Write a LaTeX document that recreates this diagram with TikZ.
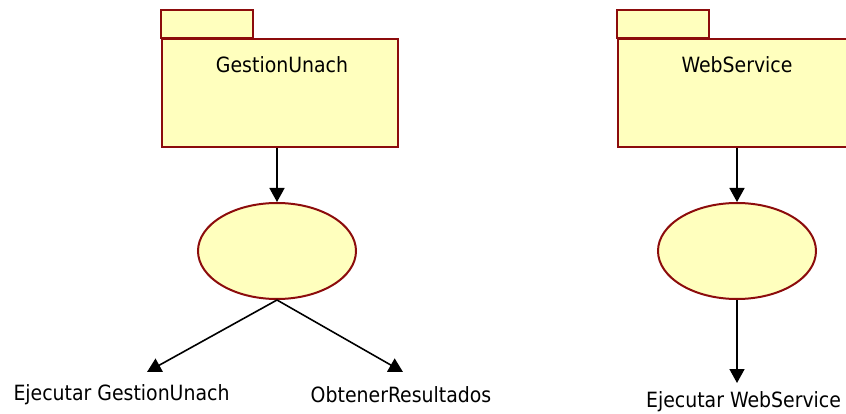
\documentclass[tikz,border=0pt]{standalone}
\usepackage{fontspec}
\setmainfont{DejaVu Sans Condensed}
\usepackage{tikz}
\usetikzlibrary{arrows.meta,shapes.geometric}
\definecolor{pkgfill}{RGB}{255,255,190}
\definecolor{pkgline}{RGB}{140,12,12}
\tikzset{>={Triangle[length=14pt,width=15pt]}}
\tikzset{
  pkg/.style={draw=pkgline,fill=pkgfill,line width=2pt,rectangle,minimum width=236pt,minimum height=108pt,inner sep=0pt},
  usecase/.style={draw=pkgline,fill=pkgfill,line width=2pt,ellipse,minimum width=158pt,minimum height=96pt,inner sep=0pt},
  txt/.style={font=\fontsize{21}{25}\selectfont,inner sep=0pt},
  conn/.style={line width=1.6pt,->}
}

\begin{document}
\begin{tikzpicture}[x=1pt,y=-1pt]
      \path[use as bounding box,clip] (0,0) rectangle (846,414);
      % paquete GestionUnach
      \node[pkg] (gu) at (280,93) {};
      \draw[draw=pkgline,fill=pkgfill,line width=2pt] (gu.north west) rectangle ++(92,-28);
      \node[txt] (guName) at (282,65) {GestionUnach};
      \node[usecase] (ucGu) at (277,251) {};
      \draw[conn] (ucGu.north |- gu.south) -- (ucGu.north);
      \coordinate (tipEjec) at (147,372);
      \coordinate (tipObt) at (403,372);
      \draw[conn] (ucGu.south) -- (tipEjec);
      \draw[conn] (ucGu.south) -- (tipObt);
      \node[txt] (ejecGu) at (121.5,395) {Ejecutar GestionUnach};
      \node[txt] (obtRes) at (401,395) {ObtenerResultados};
      % paquete WebService
      \node[pkg] (ws) at (736,93) {};
      \draw[draw=pkgline,fill=pkgfill,line width=2pt] (ws.north west) rectangle ++(92,-28);
      \node[txt] (wsName) at (737,65) {WebService};
      \node[usecase] (ucWs) at (737,251) {};
      \draw[conn] (ucWs.north |- ws.south) -- (ucWs.north);
      \coordinate (tipWs) at (ucWs.south |- 0,383);
      \draw[conn] (ucWs.south) -- (tipWs);
      \node[txt] (ejecWs) at (743.5,402) {Ejecutar WebService};
      %\path (400,200) node {casos de uso};
\end{tikzpicture}
\end{document}
